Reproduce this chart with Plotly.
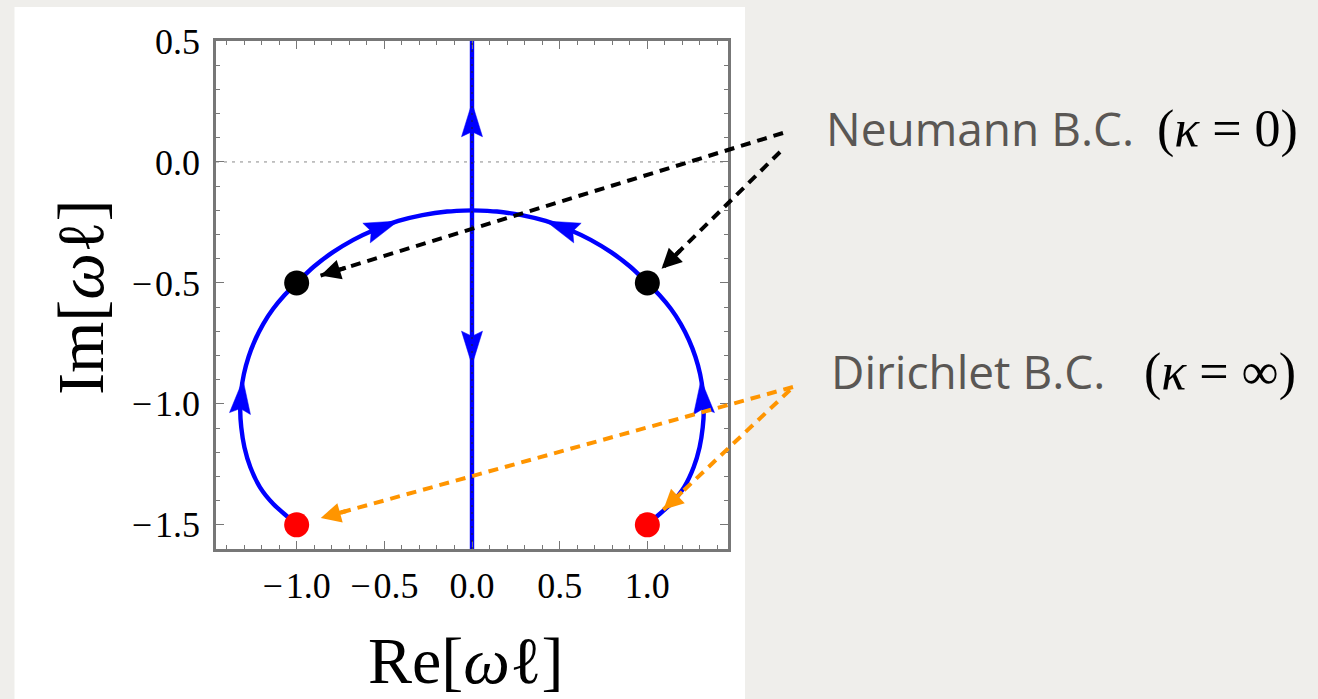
import math
import plotly.graph_objects as go

# ---- data: quasinormal-mode trajectories in the complex (Re, Im) plane ----
left_re = [-1.000, -1.048, -1.133, -1.209, -1.264, -1.298, -1.316, -1.322,
           -1.317, -1.301, -1.274, -1.237, -1.191, -1.135, -1.070, -1.000,
           -0.903, -0.795, -0.677, -0.552, -0.420, -0.283, -0.142, 0.000]
left_im = [-1.500, -1.469, -1.414, -1.345, -1.262, -1.179, -1.097, -1.025,
           -0.951, -0.877, -0.805, -0.736, -0.670, -0.608, -0.551, -0.500,
           -0.433, -0.374, -0.322, -0.279, -0.244, -0.220, -0.205, -0.200]
right_re = [1.000, 1.048, 1.133, 1.209, 1.264, 1.298, 1.316, 1.322,
            1.317, 1.301, 1.274, 1.237, 1.191, 1.135, 1.070, 1.000,
            0.903, 0.795, 0.677, 0.552, 0.420, 0.283, 0.142, 0.000]
right_im = [-1.500, -1.469, -1.414, -1.345, -1.262, -1.179, -1.097, -1.025,
            -0.951, -0.877, -0.805, -0.736, -0.670, -0.608, -0.551, -0.500,
            -0.433, -0.374, -0.322, -0.279, -0.244, -0.220, -0.205, -0.200]

# purely imaginary branch after the collision
axis_re = [0.0, 0.0]
axis_im = [-1.6, 0.5]

# boundary-condition end points
neumann_re = [-1.0, 1.0]
neumann_im = [-0.5, -0.5]
dirichlet_re = [-1.0, 1.0]
dirichlet_im = [-1.5, -1.5]

# flow direction along the branches: (re_from, im_from, re_to, im_to)
flow_arrows = [
    (0.0, 0.10, 0.0, 0.245),
    (0.0, -0.70, 0.0, -0.84),
    (-1.322, -1.03, -1.306, -0.90),
    (1.322, -1.03, 1.306, -0.90),
    (-0.58, -0.288, -0.42, -0.244),
    (0.58, -0.288, 0.42, -0.244),
]

x_tick_vals = [-1.0, -0.5, 0.0, 0.5, 1.0]
x_tick_text = ["\u2212\u200a1.0", "\u2212\u200a0.5", "0.0", "0.5", "1.0"]
y_tick_vals = [-1.5, -1.0, -0.5, 0.0, 0.5]
y_tick_text = ["\u2212\u200a1.5", "\u2212\u200a1.0", "\u2212\u200a0.5", "0.0", "0.5"]

# ---- layout geometry ----
W, H = 1318, 699
M_L, M_R, M_T, M_B = 216, 590, 41, 150
PW, PH = W - M_L - M_R, H - M_T - M_B
X_RANGE = [-1.46, 1.46]
Y_RANGE = [-1.6, 0.5]

BLUE = "#0000ff"
ORANGE = "#ff9500"
FRAME = "#777777"
SERIF = "Liberation Serif, Times New Roman, serif"
SANS = "Open Sans, Lato, sans-serif"
LABEL_GRAY = "#5a5754"

# arrowhead geometry in pixels
HEAD_LEN, HEAD_HALF_W, HEAD_NOTCH = 34, 10.5, 5


def to_px(x, y):
    px = M_L + (x - X_RANGE[0]) / (X_RANGE[1] - X_RANGE[0]) * PW
    py = M_T + (Y_RANGE[1] - y) / (Y_RANGE[1] - Y_RANGE[0]) * PH
    return px, py


def from_px(px, py):
    x = X_RANGE[0] + (px - M_L) / PW * (X_RANGE[1] - X_RANGE[0])
    y = Y_RANGE[1] - (py - M_T) / PH * (Y_RANGE[1] - Y_RANGE[0])
    return x, y


def px_to_paper(px, py):
    return (px - M_L) / PW, (H - M_B - py) / PH


fig = go.Figure()

fig.add_trace(go.Scatter(x=axis_re, y=axis_im, mode="lines",
                         line=dict(color=BLUE, width=4.4),
                         hoverinfo="skip", showlegend=False))
for re_vals, im_vals in ((left_re, left_im), (right_re, right_im)):
    fig.add_trace(go.Scatter(x=re_vals, y=im_vals, mode="lines",
                             line=dict(color=BLUE, width=4.4, shape="spline", smoothing=0.8),
                             hoverinfo="skip", showlegend=False))

# notched arrowheads built in screen space and mapped back to data units
head_x, head_y = [], []
for x0, y0, x1, y1 in flow_arrows:
    bx, by = to_px(x0, y0)
    tx, ty = to_px(x1, y1)
    d = math.hypot(tx - bx, ty - by)
    ux, uy = (tx - bx) / d, (ty - by) / d
    nx, ny = -uy, ux
    pts = [
        (tx, ty),
        (tx - HEAD_LEN * ux + HEAD_HALF_W * nx, ty - HEAD_LEN * uy + HEAD_HALF_W * ny),
        (tx - (HEAD_LEN - HEAD_NOTCH) * ux, ty - (HEAD_LEN - HEAD_NOTCH) * uy),
        (tx - HEAD_LEN * ux - HEAD_HALF_W * nx, ty - HEAD_LEN * uy - HEAD_HALF_W * ny),
        (tx, ty),
    ]
    for p in pts:
        dx_, dy_ = from_px(*p)
        head_x.append(dx_)
        head_y.append(dy_)
    head_x.append(None)
    head_y.append(None)
fig.add_trace(go.Scatter(x=head_x, y=head_y, mode="lines", fill="toself",
                         fillcolor=BLUE, line=dict(color=BLUE, width=0.5),
                         hoverinfo="skip", showlegend=False))

fig.add_trace(go.Scatter(x=neumann_re, y=neumann_im, mode="markers", cliponaxis=False,
                         marker=dict(color="black", size=25, opacity=1, line=dict(width=0)),
                         hoverinfo="skip", showlegend=False))
fig.add_trace(go.Scatter(x=dirichlet_re, y=dirichlet_im, mode="markers", cliponaxis=False,
                         marker=dict(color="#ff0000", size=25, opacity=1, line=dict(width=0)),
                         hoverinfo="skip", showlegend=False))

shapes = []
annotations = []

# white panel behind the plot
p0 = px_to_paper(14.5, 699)
p1 = px_to_paper(745, 7)
shapes.append(dict(type="rect", xref="paper", yref="paper", layer="below",
                   x0=p0[0], y0=p0[1], x1=p1[0], y1=p1[1],
                   fillcolor="white", line=dict(width=0)))

# dotted coordinate axes
shapes.append(dict(type="line", xref="x", yref="y", layer="below",
                   x0=X_RANGE[0], x1=X_RANGE[1], y0=0, y1=0,
                   line=dict(color="#8a8a8a", width=1, dash="3px,5px")))
shapes.append(dict(type="line", xref="x", yref="y", layer="above",
                   x0=0, x1=0, y0=Y_RANGE[0], y1=Y_RANGE[1],
                   line=dict(color="#222222", width=1, dash="2px,5px")))

# dashed call-outs from the labels to the end points
callouts = [
    dict(src=(783, 133), dot=(neumann_re[0], neumann_im[0]), standoff=25, color="black"),
    dict(src=(780, 152), dot=(neumann_re[1], neumann_im[1]), standoff=20, color="black"),
    dict(src=(793, 387), dot=(dirichlet_re[0], dirichlet_im[0]), standoff=25, color=ORANGE),
    dict(src=(790, 390), dot=(dirichlet_re[1], dirichlet_im[1]), standoff=22, color=ORANGE),
]
for c in callouts:
    dx, dy = to_px(*c["dot"])
    sx, sy = c["src"]
    length = math.hypot(sx - dx, sy - dy)
    ux, uy = (sx - dx) / length, (sy - dy) / length
    tx, ty = dx + ux * c["standoff"], dy + uy * c["standoff"]
    a0 = px_to_paper(sx, sy)
    a1 = px_to_paper(tx, ty)
    shapes.append(dict(type="line", xref="paper", yref="paper", layer="above",
                       x0=a0[0], y0=a0[1], x1=a1[0], y1=a1[1],
                       line=dict(color=c["color"], width=4, dash="10px,7px")))
    annotations.append(dict(xref="paper", yref="paper", x=a1[0], y=a1[1],
                            axref="pixel", ayref="pixel", ax=ux * 28, ay=uy * 28,
                            text="", showarrow=True, arrowhead=2, arrowsize=1.0,
                            arrowwidth=4, arrowcolor=c["color"], standoff=0))

# axis titles
rx, ry = px_to_paper(466, 660)
annotations.append(dict(xref="paper", yref="paper", x=rx, y=ry, xanchor="center", yanchor="middle",
                        text="Re[<i>ω</i>ℓ]", showarrow=False,
                        font=dict(family=SERIF, size=66, color="black")))
ix, iy = px_to_paper(80, 297)
annotations.append(dict(xref="paper", yref="paper", x=ix, y=iy, xanchor="center", yanchor="middle",
                        text="Im[<i>ω</i>ℓ]", textangle=-90, showarrow=False,
                        font=dict(family=SERIF, size=66, color="black")))

# boundary-condition labels
for text, math_text, tx_px, mx_px, cy_px in (
        ("Neumann B.C.", "(<i>κ</i> = 0)", 824, 1155, 128),
        ("Dirichlet B.C.", "(<i>κ</i> = ∞)", 829, 1142, 371)):
    lx, ly = px_to_paper(tx_px, cy_px)
    annotations.append(dict(xref="paper", yref="paper", x=lx, y=ly, xanchor="left", yanchor="middle",
                            text=text, showarrow=False,
                            font=dict(family=SANS, size=46, color=LABEL_GRAY)))
    mx, my = px_to_paper(mx_px, cy_px + 1)
    annotations.append(dict(xref="paper", yref="paper", x=mx, y=my, xanchor="left", yanchor="middle",
                            text=math_text, showarrow=False,
                            font=dict(family=SERIF, size=52, color="black")))

axis_common = dict(
    showgrid=False, zeroline=False, showline=True, linecolor=FRAME, linewidth=2.5,
    mirror="allticks", ticks="inside", ticklen=8, tickwidth=1.3, tickcolor=FRAME,
    tickmode="array", tickfont=dict(family=SERIF, size=36, color="black"),
    minor=dict(tickmode="linear", tick0=0, dtick=0.1, ticks="inside", ticklen=4,
               tickwidth=1, tickcolor=FRAME, showgrid=False),
    automargin=False, fixedrange=True,
)

fig.update_layout(
    width=W, height=H,
    margin=dict(l=M_L, r=M_R, t=M_T, b=M_B, pad=0),
    paper_bgcolor="#efeeeb", plot_bgcolor="white",
    showlegend=False,
    xaxis=dict(range=X_RANGE, tickvals=x_tick_vals, ticktext=x_tick_text,
               ticklabelstandoff=3, **axis_common),
    yaxis=dict(range=Y_RANGE, tickvals=y_tick_vals, ticktext=y_tick_text,
               ticklabelstandoff=6, **axis_common),
    shapes=shapes,
    annotations=annotations,
)

fig.write_html("out.html")
